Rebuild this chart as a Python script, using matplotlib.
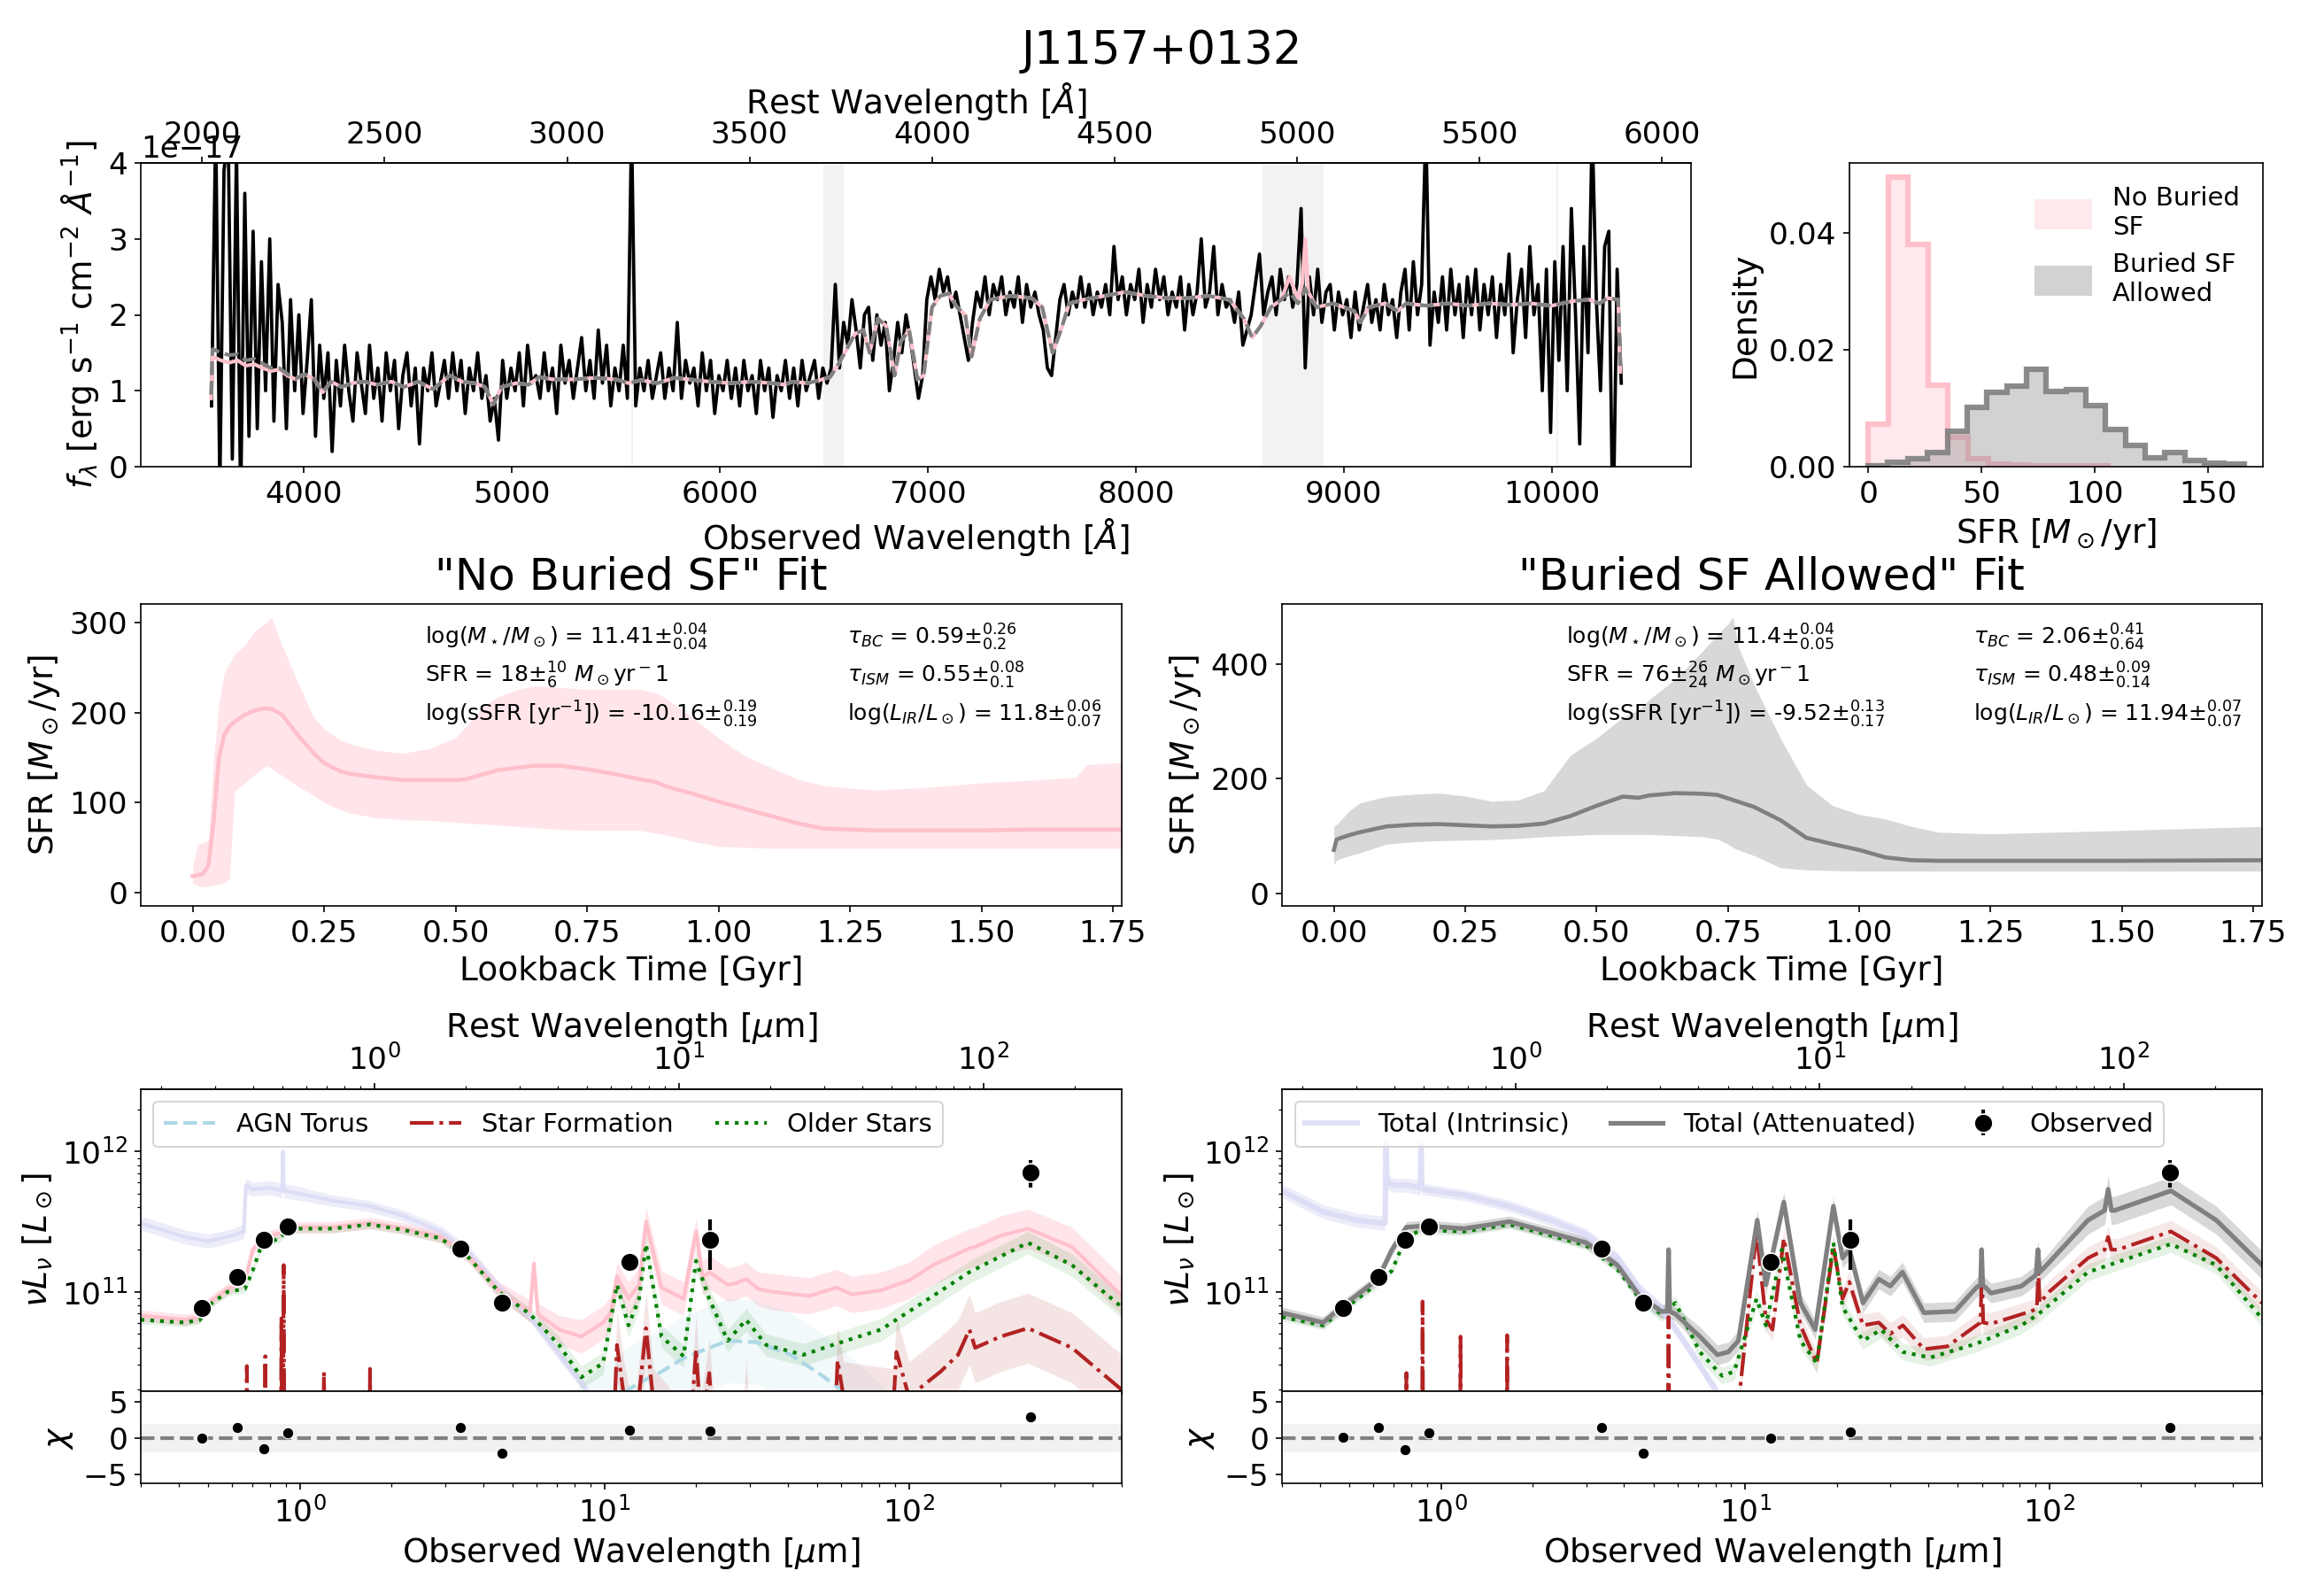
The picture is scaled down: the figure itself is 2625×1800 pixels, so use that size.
import matplotlib
matplotlib.use("Agg")
import matplotlib.pyplot as plt
import numpy as np
from matplotlib.patches import Patch

Z = 0.755  # redshift, used for the rest-frame axes

# ---------------- optical spectrum (flux in 1e-17 erg/s/cm2/A), one sample every 20 A
SPEC_START, SPEC_STEP = 3555, 20
SPEC_FLUX = [
    0.8, 4.5, -0.3, 3.9, 4.4, 0.1, 4.2, -0.5, 3.6, 0.4,
    3.1, 0.5, 2.7, 1.0, 3.0, 0.6, 2.4, 1.9, 0.5, 2.2,
    1.0, 2.0, 0.7, 1.4, 2.2, 0.4, 1.6, 0.9, 1.5, 0.2,
    1.4, 0.8, 1.6, 1.0, 0.6, 1.5, 1.1, 0.7, 1.6, 0.9,
    1.3, 0.6, 1.5, 1.0, 1.4, 0.5, 1.2, 1.5, 0.8, 1.3,
    0.3, 1.3, 1.0, 1.5, 0.8, 1.1, 1.4, 0.9, 1.5, 1.0,
    1.4, 0.7, 1.3, 1.0, 1.5, 0.9, 1.2, 0.6, 0.9, 0.35,
    1.4, 0.9, 1.3, 1.0, 1.5, 0.8, 1.6, 1.1, 1.2, 0.9,
    1.5, 1.0, 1.3, 0.7, 1.6, 1.1, 1.4, 0.9, 1.3, 1.7,
    1.0, 1.4, 0.9, 1.8, 1.1, 1.6, 0.8, 1.3, 1.0, 1.6,
    0.9, 4.5, 0.8, 1.3, 1.0, 1.4, 0.9, 1.2, 1.5, 0.9,
    1.3, 1.0, 1.9, 0.9, 1.4, 1.1, 1.3, 0.8, 1.5, 1.0,
    1.4, 0.7, 1.2, 1.0, 1.4, 0.9, 1.3, 0.8, 1.4, 1.0,
    1.2, 0.7, 1.4, 1.0, 1.3, 0.65, 1.2, 1.0, 1.4, 0.9,
    1.3, 0.8, 1.4, 1.0, 1.2, 1.4, 0.9, 1.3, 1.1, 1.3,
    2.4, 1.3, 1.9, 1.6, 2.2, 1.8, 1.3, 2.0, 2.1, 1.4,
    2.0, 1.6, 1.9, 1.0, 1.4, 1.9, 1.5, 2.0, 1.7, 1.3,
    0.9, 1.2, 2.2, 2.5, 2.2, 2.6, 2.3, 2.5, 2.1, 2.3,
    2.0, 1.7, 1.4, 1.9, 2.3, 2.1, 2.5, 2.0, 2.4, 2.2,
    2.5, 2.0, 2.3, 2.1, 2.5, 1.9, 2.4, 2.1, 2.3, 2.0,
    1.8, 1.3, 1.2, 1.7, 2.2, 2.4, 2.0, 2.3, 2.1, 2.5,
    2.1, 2.4, 2.0, 2.3, 2.1, 2.4, 2.0, 2.9, 2.2, 2.5,
    2.0, 2.4, 2.2, 2.6, 1.9, 2.4, 2.1, 2.6, 2.2, 2.5,
    2.0, 2.3, 2.1, 2.5, 1.8, 2.4, 2.0, 2.3, 3.0, 2.1,
    2.3, 2.9, 2.0, 2.4, 2.1, 2.2, 1.9, 2.3, 1.6, 1.8,
    2.0, 2.4, 2.8, 2.0, 2.3, 2.5, 2.0, 2.6, 2.2, 2.5,
    2.1, 2.4, 3.4, 1.3, 2.5, 2.0, 2.6, 1.9, 2.3, 2.4,
    1.8, 2.3, 2.0, 2.2, 1.7, 2.3, 1.8, 2.1, 2.4, 1.9,
    2.2, 1.8, 2.4, 2.0, 2.2, 1.7, 2.3, 2.6, 1.8, 2.7,
    2.0, 2.4, 4.5, 1.6, 2.3, 1.9, 2.5, 1.8, 2.6, 2.0,
    2.4, 1.7, 2.5, 2.0, 2.6, 1.8, 2.4, 2.0, 2.5, 1.7,
    2.4, 2.0, 2.8, 1.5, 2.2, 2.6, 1.7, 2.9, 2.0, 2.4,
    1.0, 2.6, 0.45, 2.7, 1.4, 2.9, 1.0, 3.4, 2.0, 0.3,
    2.9, 1.5, 4.5, 2.2, 1.0, 2.9, 3.1, -1.0, 2.6, 1.1,
]
MODEL_WAVE = [
    3553, 3560, 3600, 3640, 3680, 3720, 3760, 3800, 3840, 3880,
    3920, 3960, 4000, 4050, 4090, 4130, 4180, 4230, 4290, 4350,
    4420, 4480, 4550, 4620, 4700, 4760, 4820, 4870, 4910, 4950,
    5020, 5080, 5130, 5200, 5300, 5400, 5500, 5560, 5620, 5700,
    5780, 5850, 5950, 6050, 6150, 6250, 6310, 6350, 6420, 6480,
    6530, 6570, 6610, 6650, 6690, 6720, 6760, 6800, 6840, 6870,
    6910, 6950, 6980, 7020, 7060, 7100, 7140, 7180, 7210, 7250,
    7300, 7400, 7500, 7550, 7600, 7640, 7680, 7750, 7850, 7950,
    8050, 8150, 8250, 8350, 8450, 8520, 8560, 8600, 8650, 8700,
    8740, 8780, 8800, 8815, 8830, 8870, 8950, 9050, 9080, 9120,
    9200, 9260, 9300, 9400, 9500, 9600, 9700, 9800, 9900, 10000,
    10100, 10180, 10230, 10270, 10320, 10330,
]
MODEL_NOBURIED = [
    0.90, 1.45, 1.40, 1.37, 1.40, 1.33, 1.35, 1.30, 1.26, 1.28,
    1.20, 1.15, 1.22, 1.15, 0.98, 1.12, 1.05, 1.10, 1.12, 1.08,
    1.12, 1.05, 1.12, 1.02, 1.20, 1.12, 1.10, 1.05, 0.82, 1.05,
    1.10, 1.08, 1.18, 1.15, 1.15, 1.17, 1.15, 1.10, 1.14, 1.10,
    1.17, 1.15, 1.12, 1.10, 1.12, 1.10, 1.08, 1.12, 1.10, 1.14,
    1.18, 1.35, 1.55, 1.75, 1.80, 1.50, 1.95, 1.85, 1.20, 1.65,
    1.80, 1.15, 1.20, 2.10, 2.25, 2.28, 2.10, 2.00, 1.45, 1.95,
    2.20, 2.25, 2.22, 2.10, 1.50, 1.80, 2.15, 2.20, 2.25, 2.30,
    2.25, 2.22, 2.22, 2.25, 2.20, 1.95, 1.70, 1.85, 2.10, 2.20,
    2.50, 2.20, 2.40, 3.00, 2.30, 2.10, 2.15, 2.05, 1.90, 2.10,
    2.15, 2.05, 2.15, 2.12, 2.15, 2.12, 2.15, 2.13, 2.15, 2.12,
    2.18, 2.20, 2.15, 2.22, 2.20, 1.25,
]
MODEL_BURIED = [
    0.95, 1.55, 1.50, 1.47, 1.48, 1.40, 1.42, 1.36, 1.30, 1.30,
    1.22, 1.16, 1.22, 1.15, 0.98, 1.12, 1.05, 1.10, 1.12, 1.08,
    1.12, 1.05, 1.12, 1.02, 1.20, 1.12, 1.10, 1.05, 0.82, 1.05,
    1.10, 1.08, 1.18, 1.15, 1.15, 1.17, 1.15, 1.10, 1.14, 1.10,
    1.17, 1.15, 1.12, 1.10, 1.12, 1.10, 1.08, 1.12, 1.10, 1.14,
    1.18, 1.35, 1.55, 1.75, 1.80, 1.50, 1.95, 1.85, 1.20, 1.65,
    1.80, 1.15, 1.20, 2.10, 2.25, 2.28, 2.10, 2.00, 1.45, 1.95,
    2.20, 2.25, 2.22, 2.10, 1.50, 1.80, 2.15, 2.20, 2.25, 2.30,
    2.25, 2.22, 2.22, 2.25, 2.20, 1.95, 1.70, 1.85, 2.10, 2.20,
    2.30, 2.15, 2.25, 2.35, 2.25, 2.10, 2.15, 2.05, 1.90, 2.10,
    2.15, 2.05, 2.15, 2.12, 2.15, 2.12, 2.15, 2.13, 2.15, 2.12,
    2.18, 2.20, 2.15, 2.22, 2.20, 1.25,
]
MASKS = [(5572, 5582), (6498, 6596), (8608, 8902), (10022, 10032)]

# ---------------- SFR posterior histograms
HIST_NB_EDGES = [0.0, 8.8, 17.7, 26.5, 35.3, 44.2, 53.0, 61.8, 70.7, 79.5, 88.3, 97.2, 106.0]
HIST_NB = [0.0073, 0.0496, 0.0380, 0.0139, 0.0050, 0.0013, 0.0004, 0.0003, 0.0002, 0.0002, 0.0001, 0.0001]
HIST_BA_EDGES = [0.0, 8.7, 17.5, 26.2, 35.0, 43.7, 52.4, 61.2, 69.9, 78.7, 87.4, 96.1,
                 104.9, 113.6, 122.3, 131.1, 139.8, 148.6, 157.3, 166.0]
HIST_BA = [0.0002, 0.0008, 0.0013, 0.0024, 0.0060, 0.0102, 0.0127, 0.0138, 0.0167, 0.0129,
           0.0132, 0.0105, 0.0063, 0.0036, 0.0015, 0.0025, 0.0010, 0.0006, 0.0004]

# ---------------- star formation histories (Gyr, Msun/yr)
NB_T = [0.00, 0.01, 0.02, 0.03, 0.04, 0.05, 0.06, 0.07, 0.08, 0.10,
        0.12, 0.14, 0.15, 0.17, 0.20, 0.23, 0.25, 0.28, 0.30,
        0.35, 0.40, 0.45, 0.50, 0.52, 0.55, 0.58, 0.62, 0.65, 0.70,
        0.75, 0.80, 0.85, 0.88, 0.90, 0.95, 1.00, 1.05, 1.10, 1.15,
        1.20, 1.25, 1.30, 1.40, 1.50, 1.60, 1.68, 1.70, 1.77]
NB_MED = [18, 19, 21, 30, 80, 150, 175, 185, 190, 198,
          203, 205, 204, 198, 175, 155, 144, 135, 132,
          128, 125, 125, 125, 126, 131, 136, 139, 141, 141,
          137, 132, 126, 123, 118, 110, 101, 93, 85, 77,
          71, 70, 69, 69, 69, 70, 70, 70, 70]
NB_HI = [28, 54, 55, 58, 150, 210, 244, 255, 265, 276,
         292, 300, 306, 275, 234, 195, 182, 170, 165,
         158, 155, 160, 172, 185, 205, 218, 226, 230, 228,
         226, 226, 226, 222, 216, 195, 172, 152, 139, 126,
         119, 116, 114, 117, 122, 125, 128, 142, 145]
NB_LO = [10, 7, 6, 7, 8, 9, 11, 15, 113, 122,
         132, 141, 138, 130, 118, 108, 100, 92, 88,
         83, 81, 80, 78, 77, 76, 75, 73, 72, 70,
         69, 69, 69, 66, 64, 57, 51, 50, 49, 49,
         49, 49, 49, 49, 49, 49, 49, 49, 49]

BA_T = [0.00, 0.005, 0.01, 0.03, 0.05, 0.08, 0.10, 0.15, 0.20, 0.25,
        0.30, 0.35, 0.40, 0.45, 0.50, 0.55, 0.58, 0.60, 0.65, 0.70,
        0.73, 0.75, 0.76, 0.77, 0.80, 0.85, 0.90, 0.95, 1.00, 1.05,
        1.10, 1.15, 1.25, 1.50, 1.77]
BA_MED = [76, 94, 96, 102, 107, 113, 117, 120, 121, 119,
          117, 118, 122, 135, 153, 169, 167, 171, 175, 174,
          172, 166, 163, 160, 151, 128, 97, 86, 76, 63,
          58, 57, 57, 57, 58]
BA_HI = [117, 120, 125, 145, 158, 165, 169, 173, 175, 170,
         161, 163, 179, 241, 271, 307, 320, 338, 374, 421,
         451, 470, 482, 431, 364, 271, 189, 153, 138, 130,
         117, 107, 104, 110, 117]
BA_LO = [50, 58, 60, 66, 71, 80, 86, 90, 92, 93,
         94, 96, 99, 101, 103, 103, 103, 103, 101, 99,
         95, 86, 80, 76, 66, 45, 41, 40, 39, 39,
         39, 39, 39, 39, 39]

NB_NOTES = [
    r"log($M_\star/M_\odot$) = 11.41$\pm^{0.04}_{0.04}$",
    r"SFR = 18$\pm^{10}_{6}$ $M_\odot$yr$^-$1",
    r"log(sSFR [yr$^{-1}$]) = -10.16$\pm^{0.19}_{0.19}$",
    r"$\tau_{BC}$ = 0.59$\pm^{0.26}_{0.2}$",
    r"$\tau_{ISM}$ = 0.55$\pm^{0.08}_{0.1}$",
    r"log($L_{IR}/L_\odot$) = 11.8$\pm^{0.06}_{0.07}$",
]
BA_NOTES = [
    r"log($M_\star/M_\odot$) = 11.4$\pm^{0.04}_{0.05}$",
    r"SFR = 76$\pm^{26}_{24}$ $M_\odot$yr$^-$1",
    r"log(sSFR [yr$^{-1}$]) = -9.52$\pm^{0.13}_{0.17}$",
    r"$\tau_{BC}$ = 2.06$\pm^{0.41}_{0.64}$",
    r"$\tau_{ISM}$ = 0.48$\pm^{0.09}_{0.14}$",
    r"log($L_{IR}/L_\odot$) = 11.94$\pm^{0.07}_{0.07}$",
]

# ---------------- SEDs: observed wavelength (um), log10(nu L_nu / Lsun), band half-width (dex)
NB_INT_W = [0.30, 0.42, 0.50, 0.60, 0.655, 0.665, 0.70, 0.80, 0.875, 0.88, 0.885, 0.95,
            1.28, 1.7, 2.2, 2.9, 3.6, 4.5, 5.7, 7.1, 8.4, 10.0, 12.0]
NB_INT_L = [11.49, 11.39, 11.36, 11.40, 11.43, 11.76, 11.73, 11.74, 11.72, 12.0, 11.72, 11.71,
            11.65, 11.61, 11.54, 11.43, 11.28, 11.03, 10.82, 10.55, 10.35, 10.10, 9.8]
NB_INT_D = [0.05, 0.05, 0.05, 0.05, 0.05, 0.05, 0.05, 0.05, 0.05, 0.05, 0.05, 0.05,
            0.04, 0.04, 0.04, 0.04, 0.04, 0.04, 0.04, 0.04, 0.04, 0.04, 0.04]

NB_ATT_W = [0.30, 0.42, 0.47, 0.50, 0.58, 0.66, 0.70, 0.74, 0.78, 0.86,
            0.90, 1.0, 1.28, 1.7, 2.2, 2.9, 3.6, 4.5, 5.7, 5.87,
            6.05, 7.1, 8.4, 9.9, 10.5, 11.0, 12.0, 13.0, 13.7, 15.4,
            18.2, 20.0, 21.0, 22.1, 25.4, 27.0, 29.2, 32.0, 35.5, 47,
            58, 65, 81, 91, 100, 120, 158, 165, 200, 246,
            343, 500]
NB_ATT_L = [10.83, 10.80, 10.82, 10.92, 11.02, 11.07, 11.30, 11.36, 11.39, 11.42,
            11.45, 11.46, 11.46, 11.49, 11.45, 11.39, 11.25, 11.01, 10.86, 11.20,
            10.84, 10.73, 10.68, 10.78, 10.85, 11.11, 10.95, 11.05, 11.50, 11.03,
            10.95, 11.43, 11.10, 11.14, 11.05, 11.06, 11.09, 11.02, 11.00, 10.97,
            11.03, 10.98, 11.01, 11.05, 11.08, 11.19, 11.31, 11.32, 11.40, 11.45,
            11.32, 10.97]
NB_ATT_D = [0.04, 0.04, 0.04, 0.04, 0.04, 0.04, 0.04, 0.04, 0.04, 0.04,
            0.04, 0.04, 0.04, 0.04, 0.04, 0.04, 0.05, 0.06, 0.08, 0.08,
            0.08, 0.10, 0.12, 0.12, 0.12, 0.10, 0.12, 0.12, 0.10, 0.12,
            0.12, 0.10, 0.12, 0.12, 0.12, 0.12, 0.12, 0.12, 0.13, 0.13,
            0.13, 0.13, 0.13, 0.13, 0.13, 0.14, 0.14, 0.14, 0.14, 0.14,
            0.14, 0.14]

NB_OLD_W = [0.30, 0.42, 0.47, 0.50, 0.58, 0.66, 0.70, 0.74, 0.78, 0.86,
            0.90, 1.0, 1.28, 1.7, 2.2, 2.9, 3.6, 4.5, 5.7, 7.1,
            8.4, 9.9, 11.0, 12.0, 13.0, 13.7, 15.4, 18.2, 20.0, 22.1,
            25.4, 29.2, 34, 45, 58, 81, 120, 158, 246, 343,
            500]
NB_OLD_L = [10.80, 10.78, 10.80, 10.90, 11.00, 11.02, 11.15, 11.30, 11.35, 11.38,
            11.43, 11.45, 11.45, 11.48, 11.44, 11.38, 11.24, 11.00, 10.84, 10.62,
            10.39, 10.49, 11.05, 10.76, 10.95, 11.34, 10.68, 10.54, 11.22, 10.95,
            10.65, 10.80, 10.62, 10.55, 10.63, 10.73, 10.97, 11.14, 11.35, 11.19,
            10.89]
NB_OLD_D = [0.03, 0.03, 0.03, 0.03, 0.03, 0.03, 0.03, 0.03, 0.03, 0.03,
            0.03, 0.03, 0.03, 0.03, 0.03, 0.03, 0.03, 0.04, 0.05, 0.06,
            0.08, 0.08, 0.08, 0.08, 0.08, 0.08, 0.08, 0.08, 0.08, 0.08,
            0.08, 0.08, 0.08, 0.08, 0.08, 0.08, 0.08, 0.08, 0.08, 0.08,
            0.08]

NB_SF_W = [0.30, 0.665, 0.67, 0.675, 0.765, 0.77, 0.775, 0.865, 0.87, 0.875,
           0.88, 0.885, 0.89, 1.19, 1.2, 1.21, 1.69, 1.7, 1.71, 10.5,
           11.0, 11.6, 12.5, 13.7, 14.5, 19.0, 20.0, 20.8, 22.1, 23.0,
           28.5, 29.2, 30.0, 57, 58.3, 61, 89, 91, 100, 127,
           145, 158, 165, 200, 246, 343, 500]
NB_SF_L = [9.5, 9.5, 10.47, 9.5, 9.5, 10.54, 9.5, 9.5, 10.81, 9.5,
           9.5, 11.19, 9.5, 9.5, 10.43, 9.5, 9.5, 10.45, 9.5, 9.5,
           10.62, 10.25, 9.9, 10.74, 10.2, 9.9, 10.59, 10.0, 10.42, 9.9,
           9.9, 10.28, 9.9, 10.0, 10.51, 10.25, 10.2, 10.57, 10.25, 10.43,
           10.55, 10.73, 10.60, 10.68, 10.74, 10.60, 10.30]
NB_SF_D = [0.10, 0.10, 0.10, 0.10, 0.10, 0.10, 0.10, 0.10, 0.10, 0.10,
           0.10, 0.10, 0.10, 0.10, 0.10, 0.10, 0.10, 0.10, 0.10, 0.25,
           0.25, 0.25, 0.25, 0.25, 0.25, 0.25, 0.25, 0.25, 0.25, 0.25,
           0.25, 0.25, 0.25, 0.25, 0.25, 0.25, 0.25, 0.25, 0.25, 0.25,
           0.25, 0.25, 0.25, 0.25, 0.25, 0.25, 0.25]

NB_AGN_W = [5.0, 8.0, 10.0, 11.6, 13.0, 15.4, 18.0, 20.4, 25.4, 31.5, 41, 52, 60, 80, 120]
NB_AGN_L = [9.5, 10.0, 10.18, 10.28, 10.35, 10.43, 10.52, 10.57, 10.65, 10.64, 10.55, 10.40, 10.30, 10.05, 9.6]
NB_AGN_D = [0.30, 0.30, 0.30, 0.30, 0.30, 0.30, 0.30, 0.30, 0.30, 0.30, 0.30, 0.30, 0.30, 0.30, 0.30]

BA_INT_W = [0.30, 0.41, 0.53, 0.64, 0.655, 0.66, 0.665, 0.70, 0.77, 0.855, 0.86, 0.865,
            0.88, 1.19, 1.68, 2.3, 3.0, 3.8, 4.5, 5.3, 6.5, 8.0, 10.0]
BA_INT_L = [11.72, 11.57, 11.51, 11.49, 11.49, 12.05, 11.78, 11.76, 11.76, 11.74, 12.05, 11.74,
            11.73, 11.69, 11.61, 11.51, 11.41, 11.24, 11.02, 10.88, 10.6, 10.3, 9.9]
BA_INT_D = [0.05, 0.05, 0.05, 0.05, 0.05, 0.05, 0.05, 0.05, 0.05, 0.05, 0.05, 0.05,
            0.04, 0.04, 0.04, 0.04, 0.04, 0.04, 0.04, 0.04, 0.04, 0.04, 0.04]

BA_ATT_W = [0.30, 0.41, 0.47, 0.62, 0.69, 0.77, 0.88, 1.19, 1.68, 2.3,
            3.0, 3.8, 4.5, 5.3, 5.55, 5.6, 5.65, 5.9, 7.1, 8.1,
            8.8, 9.5, 10.96, 11.7, 13.4, 15.2, 17.0, 19.5, 20.9, 22.0,
            24.4, 27.5, 30.0, 32.9, 38.7, 48.9, 57.6, 59.4, 59.9, 60.4,
            64.3, 81, 90.5, 91.7, 93, 98, 134, 152, 156, 160,
            164, 251, 354, 500]
BA_ATT_L = [10.85, 10.78, 10.89, 11.09, 11.30, 11.46, 11.47, 11.45, 11.50, 11.42,
            11.35, 11.19, 10.97, 10.86, 10.86, 11.30, 10.86, 10.84, 10.68, 10.55,
            10.57, 10.65, 11.51, 11.05, 11.64, 10.92, 10.73, 11.61, 11.24, 11.30,
            10.92, 11.09, 11.04, 11.14, 10.85, 10.86, 11.03, 11.05, 11.30, 11.05,
            10.99, 11.04, 11.12, 11.30, 11.14, 11.19, 11.51, 11.58, 11.73, 11.58,
            11.58, 11.72, 11.51, 11.19]
BA_ATT_D = [0.04, 0.04, 0.04, 0.04, 0.04, 0.04, 0.04, 0.04, 0.04, 0.04,
            0.04, 0.04, 0.05, 0.05, 0.05, 0.05, 0.05, 0.05, 0.07, 0.07,
            0.07, 0.07, 0.07, 0.07, 0.07, 0.07, 0.07, 0.07, 0.07, 0.07,
            0.07, 0.07, 0.07, 0.07, 0.07, 0.07, 0.07, 0.07, 0.07, 0.07,
            0.07, 0.07, 0.07, 0.07, 0.07, 0.07, 0.10, 0.10, 0.10, 0.10,
            0.10, 0.10, 0.10, 0.10]

BA_OLD_W = [0.30, 0.41, 0.47, 0.62, 0.69, 0.77, 0.88, 1.19, 1.68, 2.3,
            3.0, 3.8, 4.5, 5.3, 5.9, 7.1, 8.4, 9.2, 10.9, 11.7,
            13.2, 15.2, 17.2, 19.5, 20.9, 24.4, 28.0, 33.0, 40.6, 57.6,
            81, 92, 134, 251, 354, 500]
BA_OLD_L = [10.82, 10.76, 10.86, 11.06, 11.15, 11.40, 11.44, 11.43, 11.48, 11.40,
            11.33, 11.16, 10.95, 10.84, 10.92, 10.57, 10.40, 10.43, 10.95, 10.76,
            11.30, 10.65, 10.49, 11.35, 10.89, 10.65, 10.73, 10.57, 10.53, 10.63,
            10.76, 10.84, 11.14, 11.34, 11.19, 10.81]
BA_OLD_D = [0.03, 0.03, 0.03, 0.03, 0.03, 0.03, 0.03, 0.03, 0.03, 0.03,
            0.03, 0.03, 0.04, 0.05, 0.05, 0.06, 0.06, 0.06, 0.06, 0.06,
            0.06, 0.06, 0.06, 0.06, 0.06, 0.06, 0.06, 0.06, 0.06, 0.06,
            0.06, 0.06, 0.06, 0.06, 0.06, 0.06]

BA_SF_W = [0.30, 0.765, 0.77, 0.775, 0.865, 0.87, 0.875, 1.155, 1.16, 1.165,
           1.645, 1.65, 1.655, 5.55, 5.6, 5.65, 9.2, 10.9, 11.7, 12.3,
           13.4, 15.2, 17.2, 19.5, 20.9, 22.0, 24.4, 27.5, 30, 33.0,
           38.7, 46.2, 57.6, 59.4, 60.0, 60.6, 64.0, 87, 91, 92,
           93, 100, 134, 152, 156, 160, 168, 251, 354, 500]
BA_SF_L = [9.5, 9.5, 10.42, 9.5, 9.5, 10.93, 9.5, 9.5, 10.68, 9.5,
           9.5, 10.69, 9.5, 9.5, 10.82, 9.5, 9.9, 11.43, 10.80, 10.73,
           11.38, 10.76, 10.49, 11.32, 10.95, 11.07, 10.76, 10.78, 10.70, 10.76,
           10.59, 10.61, 10.76, 10.78, 11.18, 10.78, 10.77, 10.86, 10.88, 11.14,
           10.92, 11.00, 11.24, 11.30, 11.39, 11.30, 11.30, 11.43, 11.24, 10.92]
BA_SF_D = [0.08, 0.08, 0.08, 0.08, 0.08, 0.08, 0.08, 0.08, 0.08, 0.08,
           0.08, 0.08, 0.08, 0.08, 0.08, 0.08, 0.08, 0.08, 0.08, 0.08,
           0.08, 0.08, 0.08, 0.08, 0.08, 0.08, 0.08, 0.08, 0.08, 0.08,
           0.08, 0.08, 0.08, 0.08, 0.08, 0.08, 0.08, 0.08, 0.08, 0.08,
           0.08, 0.08, 0.08, 0.08, 0.08, 0.08, 0.08, 0.08, 0.08, 0.08]

OBS_W = [0.477, 0.623, 0.763, 0.913, 3.37, 4.62, 12.1, 22.2, 250.0]
OBS_L = [0.77, 1.27, 2.36, 2.94, 2.02, 0.84, 1.64, 2.35, 7.1]    # 1e11 Lsun
OBS_E = [0.02, 0.03, 0.05, 0.06, 0.04, 0.02, 0.10, 0.91, 1.6]
CHI_NB = [0.0, 1.4, -1.5, 0.7, 1.5, -2.1, 1.1, 1.0, 2.9]
CHI_BA = [0.05, 1.5, -1.65, 0.7, 1.45, -2.15, -0.05, 0.8, 1.45]

LAVENDER = "#d9d9f6"
LABEL = 18

plt.rcParams.update({"font.size": 16.5})
fig = plt.figure(figsize=(17.5, 12), dpi=150)
fig.text(0.5, 0.968, "J1157+0132", ha="center", va="center", fontsize=24.5)

# ---- spectrum
ax = fig.add_axes([0.0606, 0.7072, 0.667, 0.1906])
for lo, hi in MASKS:
    ax.axvspan(lo, hi, color="gray", alpha=0.1, lw=0)
wave = SPEC_START + SPEC_STEP * np.arange(len(SPEC_FLUX))
ax.plot(wave, np.array(SPEC_FLUX) * 1e-17, color="black", lw=1.8)
ax.plot(MODEL_WAVE, np.array(MODEL_NOBURIED) * 1e-17, color="pink", lw=2)
ax.plot(MODEL_WAVE, np.array(MODEL_BURIED) * 1e-17, color="gray", lw=2, ls="--")
ax.set_xlim(3215, 10670)
ax.set_ylim(0, 4e-17)
ax.set_xlabel(r"Observed Wavelength [$\AA$]", fontsize=LABEL)
ax.set_ylabel(r"$f_\lambda$ [erg s$^{-1}$ cm$^{-2}$ $\AA^{-1}$]", fontsize=LABEL)
top = ax.secondary_xaxis("top", functions=(lambda x: x / (1 + Z), lambda x: x * (1 + Z)))
top.set_xlabel(r"Rest Wavelength [$\AA$]", fontsize=LABEL)

# ---- SFR histogram
axh = fig.add_axes([0.7958, 0.7072, 0.1779, 0.1906])
axh.stairs(HIST_NB, HIST_NB_EDGES, fill=True, color="pink", alpha=0.35, lw=0)
axh.stairs(HIST_NB, HIST_NB_EDGES, color="pink", lw=3)
axh.stairs(HIST_BA, HIST_BA_EDGES, fill=True, color="gray", alpha=0.35, lw=0)
axh.stairs(HIST_BA, HIST_BA_EDGES, color="gray", lw=3, alpha=0.9)
axh.set_xlim(-8.3, 174.3)
axh.set_ylim(0, 0.052)
axh.set_xlabel(r"SFR [$M_\odot$/yr]", fontsize=LABEL)
axh.set_ylabel("Density", fontsize=LABEL)
axh.legend([Patch(facecolor="pink", alpha=0.35), Patch(facecolor="gray", alpha=0.35)],
           ["No Buried\nSF", "Buried SF\nAllowed"], loc="upper right", frameon=False,
           fontsize=14, handlelength=2.2, handleheight=1.4)

# ---- star formation histories
sfh = [
    ([0.0605, 0.4317, 0.4222, 0.1894], NB_T, NB_MED, NB_LO, NB_HI, "pink", 0.4,
     '"No Buried SF" Fit', NB_NOTES, (-15, 321), 0.72),
    ([0.5516, 0.4317, 0.4217, 0.1894], BA_T, BA_MED, BA_LO, BA_HI, "gray", 0.3,
     '"Buried SF Allowed" Fit', BA_NOTES, (-21.6, 505), 0.706),
]
for rect, t, med, lo, hi, col, alpha, title, notes, ylim, x2 in sfh:
    a = fig.add_axes(rect)
    a.fill_between(t, lo, hi, color=col, alpha=alpha, lw=0)
    a.plot(t, med, color=col, lw=2.2)
    a.set_xlim(-0.099, 1.767)
    a.set_ylim(*ylim)
    a.set_xticks([0, 0.25, 0.5, 0.75, 1.0, 1.25, 1.5, 1.75])
    a.set_xlabel("Lookback Time [Gyr]", fontsize=LABEL)
    a.set_ylabel(r"SFR [$M_\odot$/yr]", fontsize=LABEL)
    a.set_title(title, fontsize=24, pad=8)
    for i, y in enumerate([0.89, 0.762, 0.633]):
        a.text(0.29, y, notes[i], transform=a.transAxes, fontsize=12, va="center")
        a.text(x2, y, notes[i + 3], transform=a.transAxes, fontsize=12, va="center")


def component(ax, w, logl, dex, color, band_alpha, line_alpha=1.0, **kw):
    logl = np.array(logl)
    dex = np.array(dex)
    ax.fill_between(w, 10 ** (logl - dex), 10 ** (logl + dex), color=color,
                    alpha=band_alpha, lw=0)
    return ax.plot(w, 10 ** logl, color=color, alpha=line_alpha, **kw)[0]


sed = [
    (0.0605, 0.4222, "NB"),
    (0.5516, 0.4217, "BA"),
]
for x0, wdt, kind in sed:
    ax = fig.add_axes([x0, 0.1272, wdt, 0.1897])
    axr = fig.add_axes([x0, 0.0694, wdt, 0.0578], sharex=ax)
    ax.set_xscale("log")
    ax.set_yscale("log")
    if kind == "NB":
        component(ax, NB_INT_W, NB_INT_L, NB_INT_D, LAVENDER, 0.45, 0.8, lw=2)
        component(ax, NB_ATT_W, NB_ATT_L, NB_ATT_D, "pink", 0.4, lw=2)
        h1 = component(ax, NB_AGN_W, NB_AGN_L, NB_AGN_D, "lightblue", 0.15, lw=2, ls="--")
        h2 = component(ax, NB_SF_W, NB_SF_L, NB_SF_D, "firebrick", 0.12, lw=2, ls="-.")
        h3 = component(ax, NB_OLD_W, NB_OLD_L, NB_OLD_D, "green", 0.1, lw=2, ls=":")
        handles = [h1, h2, h3]
        labels = ["AGN Torus", "Star Formation", "Older Stars"]
        chi = CHI_NB
    else:
        h1 = component(ax, BA_INT_W, BA_INT_L, BA_INT_D, LAVENDER, 0.45, 0.8, lw=3)
        component(ax, BA_SF_W, BA_SF_L, BA_SF_D, "firebrick", 0.1, lw=2, ls="-.")
        component(ax, BA_OLD_W, BA_OLD_L, BA_OLD_D, "green", 0.1, lw=2, ls=":")
        h2 = component(ax, BA_ATT_W, BA_ATT_L, BA_ATT_D, "gray", 0.3, lw=2.5)
        chi = CHI_BA
    eb = ax.errorbar(OBS_W, np.array(OBS_L) * 1e11, yerr=np.array(OBS_E) * 1e11, fmt="o",
                     color="black", ms=10, mec="white", mew=0.8, elinewidth=2, capsize=0,
                     zorder=10)
    if kind == "BA":
        handles = [h1, h2, eb]
        labels = ["Total (Intrinsic)", "Total (Attenuated)", "Observed"]
    ax.legend(handles, labels, loc="upper left", ncol=3, fontsize=14, columnspacing=1.6)
    ax.set_xlim(0.3, 500)
    ax.set_ylim(1.95e10, 2.8e12)
    ax.tick_params(labelbottom=False)
    ax.set_ylabel(r"$\nu L_\nu$ [$L_\odot$]", fontsize=LABEL)
    sec = ax.secondary_xaxis("top", functions=(lambda x: x / (1 + Z), lambda x: x * (1 + Z)))
    sec.set_xlabel(r"Rest Wavelength [$\mu$m]", fontsize=LABEL)

    axr.axhspan(-2, 2, color="gray", alpha=0.1, lw=0)
    axr.axhline(0, color="gray", ls="--", lw=2)
    axr.plot(OBS_W, chi, "o", color="black", ms=6, mec="white", mew=0.5)
    axr.set_ylim(-6.3, 6.5)
    axr.set_yticks([-5, 0, 5])
    axr.set_xlabel(r"Observed Wavelength [$\mu$m]", fontsize=LABEL)
    axr.set_ylabel(r"$\chi$", fontsize=LABEL)

fig.savefig("out.png", dpi=150)
